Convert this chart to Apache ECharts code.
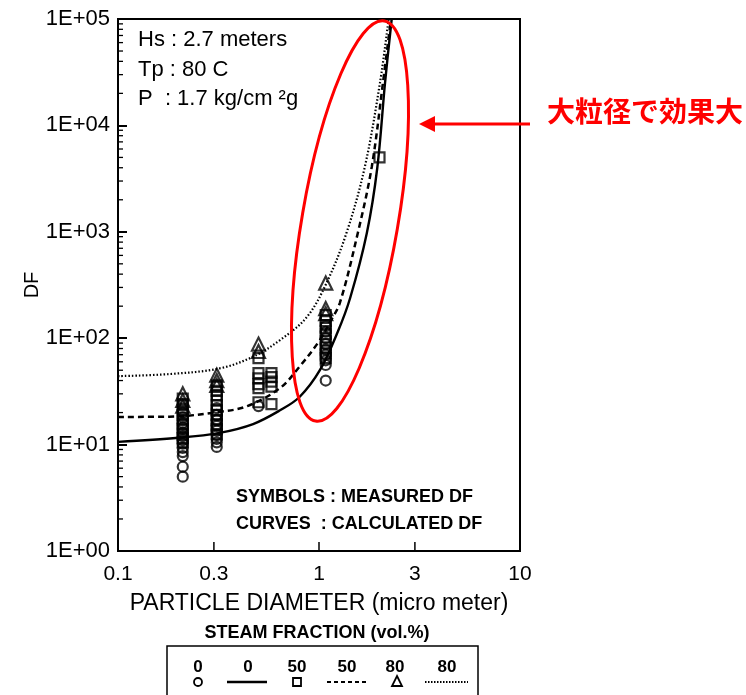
<!DOCTYPE html>
<html><head><meta charset="utf-8">
<script src="https://cdn.jsdelivr.net/npm/echarts@6/dist/echarts.min.js"></script>
<style>html,body{margin:0;padding:0;background:#fff}#c{width:746px;height:695px}</style>
</head><body><div id="c"></div>
<script>
const xTicks = [0.1, 0.3, 1, 3, 10];
const xTickLabels = ['0.1', '0.3', '1', '3', '10'];
const yTicks = [1, 10, 100, 1000, 10000, 100000];
const yTickLabels = ['1E+00', '1E+01', '1E+02', '1E+03', '1E+04', '1E+05'];
const yMinorMantissas = [2, 3, 4, 5, 6, 7, 8, 9];
const yDecades = [1, 10, 100, 1000, 10000];

// calculated DF curves (steam fraction 0, 50, 80 vol.%)
const curve0 = [[0.1,10.6],[0.2,11.6],[0.32,12.9],[0.47,15.6],[0.64,21],[0.8,28],[1.01,50],[1.24,115],[1.43,240],[1.73,975],[1.95,4000],[2.13,25000],[2.3,100000]];
const curve50 = [[0.1,18.2],[0.18,18.3],[0.32,20.3],[0.44,23],[0.64,34],[0.8,54],[1.01,96],[1.13,140],[1.27,215],[1.56,975],[1.83,4070],[2.08,25000],[2.28,100000]];
const curve80 = [[0.1,44],[0.18,46],[0.32,52],[0.47,67],[0.64,96],[0.87,158],[1.09,330],[1.37,975],[1.69,4070],[2.01,25000],[2.22,100000]];

// measured DF
const measured0 = [[0.21,20],[0.21,18],[0.21,16],[0.21,14.5],[0.21,13],[0.21,12],[0.21,11],[0.21,10.2],[0.21,9.3],[0.21,8.5],[0.21,7.8],[0.21,6.2],[0.21,5],
  [0.31,22],[0.31,19],[0.31,17],[0.31,15],[0.31,13.5],[0.31,12.3],[0.31,11.3],[0.31,10.5],[0.31,9.5],
  [0.5,23],
  [1.08,130],[1.08,115],[1.08,100],[1.08,88],[1.08,78],[1.08,70],[1.08,62],[1.08,56],[1.08,40]];
const measured50 = [[0.21,27],[0.21,24],[0.21,21],[0.21,19],[0.21,17],[0.21,15.5],[0.21,14],[0.21,12.5],[0.21,11.5],[0.21,10.5],
  [0.31,36],[0.31,32],[0.31,29],[0.31,26],[0.31,23.5],[0.31,21],[0.31,19],[0.31,17],[0.31,15.5],[0.31,14],[0.31,12.5],
  [0.5,65],[0.5,47],[0.5,42],[0.5,37],[0.5,34],[0.5,25],
  [0.58,47],[0.58,43],[0.58,39],[0.58,35],[0.58,24],
  [1.08,165],[1.08,145],[1.08,125],[1.08,110],[1.08,95],[1.08,82],[1.08,72],[1.08,65],
  [2.0,5000]];
const measured80 = [[0.21,30],[0.21,26],[0.21,23],[0.31,45],[0.31,40],[0.31,36],[0.5,88],[0.5,75],[1.08,330],[1.08,190],[1.08,170]];

const legendLabels = ['0', '0', '50', '50', '80', '80'];
const infoLines = ['Hs : 2.7 meters', 'Tp : 80 C', 'P  : 1.7 kg/cm \u00b2g'];
const noteLines = ['SYMBOLS : MEASURED DF', 'CURVES  : CALCULATED DF'];

const FONT = '"Liberation Sans", Arial, sans-serif';
const minorData = [];
yDecades.forEach(d => yMinorMantissas.forEach(m => minorData.push([0.1, m * d])));

const chart = echarts.init(document.getElementById('c'), null, {renderer: 'canvas'});
const openStyle = {color: 'rgba(0,0,0,0)', borderColor: '#000', borderWidth: 2.2};

const legendX = [198, 248, 297, 347, 395, 447];
const legendGraphics = [
  {type: 'rect', shape: {x: 167, y: 646, width: 311, height: 70}, style: {fill: 'none', stroke: '#000', lineWidth: 1.5}},
  {type: 'text', x: 317, y: 633, style: {text: 'STEAM FRACTION (vol.%)', font: 'bold 18px ' + FONT, fill: '#000', align: 'center', verticalAlign: 'middle'}}
];
legendLabels.forEach((t, i) => legendGraphics.push({type: 'text', x: legendX[i], y: 667, style: {text: t, font: 'bold 17px ' + FONT, fill: '#000', align: 'center', verticalAlign: 'middle'}}));
legendGraphics.push(
  {type: 'circle', shape: {cx: 198, cy: 682, r: 4}, style: {fill: 'none', stroke: '#000', lineWidth: 1.8}},
  {type: 'line', shape: {x1: 227, y1: 682, x2: 267, y2: 682}, style: {stroke: '#000', lineWidth: 2.4}},
  {type: 'rect', shape: {x: 293, y: 678, width: 8, height: 8}, style: {fill: 'none', stroke: '#000', lineWidth: 1.8}},
  {type: 'line', shape: {x1: 327, y1: 682, x2: 367, y2: 682}, style: {stroke: '#000', lineWidth: 2, lineDash: [4, 3]}},
  {type: 'polygon', shape: {points: [[397, 676], [402, 686], [392, 686]]}, style: {fill: 'none', stroke: '#000', lineWidth: 1.8}},
  {type: 'line', shape: {x1: 425, y1: 682, x2: 468, y2: 682}, style: {stroke: '#000', lineWidth: 2, lineDash: [1.5, 1.5]}}
);

const option = {
  backgroundColor: '#fff',
  animation: false,
  grid: {left: 118, top: 19, width: 402, height: 532, show: true, borderColor: '#000', borderWidth: 2, backgroundColor: 'transparent'},
  xAxis: {
    type: 'log', logBase: 10, min: 0.1, max: 10,
    name: 'PARTICLE DIAMETER (micro meter)', nameLocation: 'middle', nameGap: 41,
    nameTextStyle: {fontFamily: FONT, fontSize: 23, color: '#000'},
    axisLine: {show: true, lineStyle: {color: '#000', width: 2}},
    axisTick: {show: false}, axisLabel: {show: false}, splitLine: {show: false}
  },
  yAxis: {
    type: 'log', logBase: 10, min: 1, max: 100000, interval: 1,
    axisLine: {show: true, lineStyle: {color: '#000', width: 2}},
    axisTick: {show: true, inside: true, length: 9, lineStyle: {color: '#000', width: 2}},
    axisLabel: {show: true, margin: 8, fontFamily: FONT, fontSize: 22, color: '#000',
      formatter: v => yTickLabels[yTicks.indexOf(Math.pow(10, Math.round(Math.log10(v))))]},
    splitLine: {show: false}
  },
  series: [
    {type: 'custom', name: 'minorTicks', clip: false, silent: true, data: minorData,
      renderItem: (params, api) => {
        const p = api.coord([api.value(0), api.value(1)]);
        return {type: 'line', shape: {x1: p[0], y1: p[1], x2: p[0] + 5, y2: p[1]}, style: {stroke: '#000', lineWidth: 1.3}};
      }},
    {type: 'custom', name: 'xTicks', clip: false, silent: true, data: xTicks.map((v, i) => [v, 1, i]),
      renderItem: (params, api) => {
        const p = api.coord([api.value(0), api.value(1)]);
        const i = api.value(2);
        const children = [{type: 'text', x: p[0], y: p[1] + 13, style: {text: xTickLabels[i], font: '21px ' + FONT, fill: '#000', align: 'center', verticalAlign: 'top'}}];
        if (i > 0 && i < xTicks.length - 1) children.push({type: 'line', shape: {x1: p[0], y1: p[1], x2: p[0], y2: p[1] - 9}, style: {stroke: '#000', lineWidth: 1.5}});
        return {type: 'group', children};
      }},
    {type: 'line', name: 'calc 0', data: curve0, smooth: 0.35, symbol: 'none', lineStyle: {color: '#000', width: 2.4}, z: 3},
    {type: 'line', name: 'calc 50', data: curve50, smooth: 0.35, symbol: 'none', lineStyle: {color: '#000', width: 2.5, type: [6, 4]}, z: 3},
    {type: 'line', name: 'calc 80', data: curve80, smooth: 0.35, symbol: 'none', lineStyle: {color: '#000', width: 2.2, type: [1.5, 2]}, z: 3},
    {type: 'scatter', name: 'meas 0', data: measured0, symbol: 'circle', symbolSize: 10, itemStyle: openStyle, z: 4},
    {type: 'scatter', name: 'meas 50', data: measured50, symbol: 'rect', symbolSize: 10, itemStyle: openStyle, z: 4},
    {type: 'scatter', name: 'meas 80', data: measured80, symbol: 'triangle', symbolSize: 13, itemStyle: openStyle, z: 4}
  ],
  graphic: [
    {type: 'text', x: 32, y: 285, rotation: Math.PI / 2, style: {text: 'DF', font: '20px ' + FONT, fill: '#000', align: 'center', verticalAlign: 'middle'}},
    ...infoLines.map((t, i) => ({type: 'text', left: 138, top: 29 + i * 29.5, style: {text: t, font: '22px ' + FONT, fill: '#000'}})),
    ...noteLines.map((t, i) => ({type: 'text', left: 236, top: 488 + i * 27, style: {text: t, font: 'bold 18px ' + FONT, fill: '#000'}})),
    ...legendGraphics,
    {type: 'ellipse', shape: {cx: 350, cy: 221, rx: 48, ry: 203}, rotation: -0.17, originX: 350, originY: 221, style: {fill: 'none', stroke: '#ff0000', lineWidth: 3}, z: 10},
    {type: 'line', shape: {x1: 432, y1: 124, x2: 530, y2: 124}, style: {stroke: '#ff0000', lineWidth: 3}, z: 10},
    {type: 'polygon', shape: {points: [[419, 124], [435, 116], [435, 132]]}, style: {fill: '#ff0000'}, z: 10},
    {type: 'text', left: 547, top: 97, style: {text: '大粒径で効果大', font: 'bold 28px "Noto Sans CJK JP"', fill: '#ff0000'}, z: 10}
  ]
};
chart.setOption(option);
</script></body></html>
